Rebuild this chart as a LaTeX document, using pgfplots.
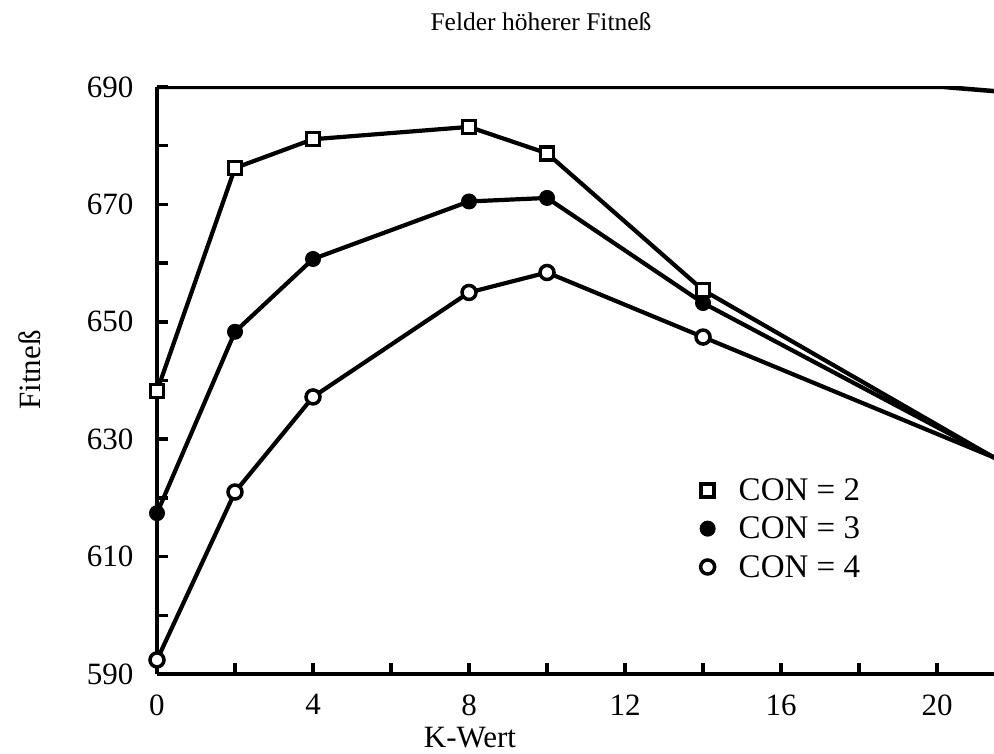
\documentclass[border=0pt]{standalone}
\usepackage{fontspec}
\setmainfont{Liberation Serif}
\usepackage{pgfplots}
\pgfplotsset{compat=1.18}
\begin{document}
\begin{tikzpicture}[font=\fontsize{30bp}{36bp}\selectfont]
\begin{axis}[
  scale only axis, width=837bp, height=587bp,
  xmin=0, xmax=21.46, ymin=590, ymax=690,
  axis lines*=left,
  axis line style={line width=4.5bp, black},
  xtick={0,4,...,20}, minor xtick={2,6,...,18},
  ytick={590,610,...,690}, minor ytick={600,620,...,680},
  tick align=inside, major tick length=11bp, minor tick length=11bp,
  every tick/.style={line width=3.5bp, black},
  /pgf/number format/assume math mode=true,
  ticklabel style={font=\fontsize{31bp}{36bp}\selectfont},
  yticklabel style={xshift=-20bp},
  xticklabel style={yshift=-17bp},
  clip=true,
  every axis plot/.append style={line width=4.2bp, black},
  legend style={draw=none, fill=none, at={(rel axis cs:0.642,0.34)}, anchor=north west,
    font=\fontsize{33bp}{38bp}\selectfont, row sep=11bp,
    nodes={inner sep=2bp}},
  legend cell align=left,
  legend image code/.code={\path (-8bp,0) (27bp,0); \draw[#1,only marks] plot coordinates {(0bp,0bp)};},
]
\addplot[mark=square*, mark size=6.5bp, mark options={fill=white, line width=3.5bp, solid}]
  coordinates {(0,638.2) (2,676.2) (4,681.1) (8,683.2) (10,678.7) (14,655.4) (22,624.8)};
\addlegendentry{CON = 2}
\addplot[mark=*, mark size=7.5bp, mark options={fill=black, line width=1bp, solid}]
  coordinates {(0,617.4) (2,648.3) (4,660.7) (8,670.5) (10,671.1) (14,653.2) (22,625.0)};
\addlegendentry{CON = 3}
\addplot[mark=*, mark size=7bp, mark options={fill=white, line width=3.5bp, solid}]
  coordinates {(0,592.4) (2,621.0) (4,637.2) (8,655.0) (10,658.4) (14,647.4) (22,625.4)};
\addlegendentry{CON = 4}
\draw[line width=4.5bp] (rel axis cs:0,1) -- (rel axis cs:0.94,1) -- (rel axis cs:1,0.993);
\coordinate (ll) at (rel axis cs:0,0);
\coordinate (ur) at (rel axis cs:1,1);
\end{axis}
\node[rotate=90, font=\fontsize{31bp}{36bp}\selectfont] at ([shift={(-127bp,304bp)}]ll) {Fitneß};
\node[font=\fontsize{31bp}{36bp}\selectfont] at ([shift={(313bp,-64bp)}]ll) {K-Wert};
\node[font=\fontsize{25.5bp}{30bp}\selectfont] at ([shift={(384bp,652bp)}]ll) {Felder höherer Fitneß};
\pgfresetboundingbox
\path[use as bounding box] ([shift={(-157bp,-80bp)}]ll) rectangle ([shift={(0bp,87bp)}]ur);
\end{tikzpicture}
\end{document}
